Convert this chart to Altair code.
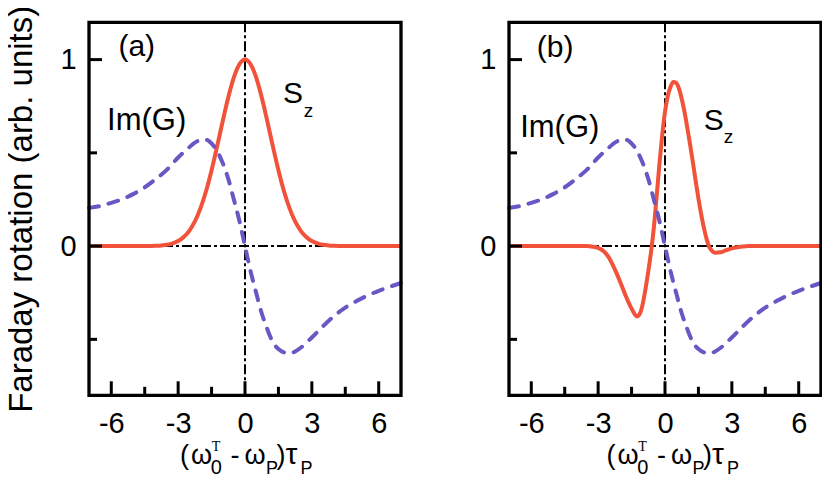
import altair as alt
import pandas as pd

# ---------------- data ----------------
x_sz_a = [-7, -6, -5, -4.5, -4, -3.75, -3.5, -3.25, -3, -2.75, -2.5, -2.25, -2, -1.75, -1.5, -1.25,
          -1, -0.75, -0.5, -0.25, 0, 0.25, 0.5, 0.75, 1, 1.25, 1.5, 1.75, 2, 2.25, 2.5, 2.75, 3,
          3.25, 3.5, 3.75, 4, 4.5, 5, 6, 7]
sz_a = [0, 0, 0, 0.0003, 0.0017, 0.0036, 0.0074, 0.0146, 0.027, 0.049, 0.082, 0.132, 0.202, 0.294,
        0.407, 0.535, 0.670, 0.798, 0.905, 0.975, 1.0, 0.975, 0.905, 0.798, 0.670, 0.535, 0.407,
        0.294, 0.202, 0.132, 0.082, 0.049, 0.027, 0.0146, 0.0074, 0.0036, 0.0017, 0.0003, 0, 0, 0]

x_img = [-7, -6.5, -6, -5.5, -5, -4.5, -4, -3.5, -3, -2.5, -2.25, -2, -1.75, -1.5, -1.25, -1,
         -0.75, -0.5, -0.25, 0, 0.25, 0.5, 0.75, 1, 1.25, 1.5, 1.75, 2, 2.25, 2.5, 3, 3.5, 4,
         4.5, 5, 5.5, 6, 6.5, 7]
im_g = [0.205, 0.215, 0.232, 0.252, 0.28, 0.315, 0.36, 0.41, 0.475, 0.53, 0.555, 0.568, 0.57,
        0.55, 0.51, 0.445, 0.36, 0.25, 0.135, 0, -0.135, -0.25, -0.36, -0.445, -0.515, -0.552,
        -0.57, -0.575, -0.565, -0.545, -0.49, -0.43, -0.375, -0.33, -0.295, -0.265, -0.24,
        -0.218, -0.198]

x_sz_b = [-7, -5, -4, -3.5, -3.25, -3, -2.75, -2.5, -2.25, -2, -1.75, -1.5, -1.25, -1.1, -1,
          -0.875, -0.75, -0.625, -0.5, -0.375, -0.25, -0.125, 0, 0.125, 0.25, 0.375, 0.5, 0.625,
          0.75, 0.875, 1, 1.125, 1.25, 1.375, 1.5, 1.625, 1.75, 1.875, 2, 2.25, 2.5, 2.75, 3,
          3.25, 3.5, 3.75, 4, 5, 7]
sz_b = [0, 0, 0, 0, -0.003, -0.01, -0.028, -0.065, -0.125, -0.195, -0.27, -0.335, -0.377, -0.355,
        -0.31, -0.23, -0.135, -0.03, 0.10, 0.265, 0.44, 0.595, 0.72, 0.805, 0.855, 0.88, 0.875,
        0.845, 0.79, 0.72, 0.635, 0.545, 0.45, 0.35, 0.255, 0.17, 0.095, 0.035, -0.008, -0.035,
        -0.033, -0.022, -0.012, -0.006, -0.002, 0, 0, 0, 0]

x_major = [-6, -3, 0, 3, 6]
x_minor = [-4.5, -1.5, 1.5, 4.5]
y_major = [0, 1]
y_minor = [-0.5, 0.5]

# panel labels: (text, x, y, size)
labels_a = [("(a)", -5.68, 1.021, 30), ("Im(G)", -6.19, 0.622, 31), ("S", 1.70, 0.767, 30), ("z", 2.635, 0.692, 19)]
labels_b = [("(b)", -5.75, 1.016, 30), ("Im(G)", -6.50, 0.583, 31), ("S", 1.74, 0.623, 30), ("z", 2.64, 0.553, 19)]

# ---------------- styling ----------------
W, H = 312, 373
RED = "#f2523a"
BLUE = "#6b57c4"
FONT = "Liberation Sans"

xs = alt.Scale(domain=[-7, 7], nice=False, zero=False)
ys = alt.Scale(domain=[-0.8, 1.2], nice=False, zero=False)
xax = alt.Axis(values=x_major, ticks=False, domain=False, grid=False, title=None,
               labelFontSize=29, labelFont=FONT, labelColor="black", labelPadding=14,
               labelExpr="'' + datum.value", labelOverlap=False, labelFlush=False)
yax = alt.Axis(values=y_major, ticks=False, domain=False, grid=False, title=None,
               labelFontSize=29, labelFont=FONT, labelColor="black", labelPadding=13,
               labelExpr="'' + datum.value", labelOverlap=False, labelFlush=False)


def X():
    return alt.X("x:Q", scale=xs, axis=xax)


def Y():
    return alt.Y("y:Q", scale=ys, axis=yax)


dummy = pd.DataFrame({"a": [0]})


def piece(text, px, py, size, font=FONT):
    return alt.Chart(dummy).mark_text(text=text, fontSize=size, font=font, align="left",
                                      baseline="alphabetic", color="black").encode(
        x=alt.value(px), y=alt.value(py))


def panel(sz_x, sz_y, labels, shift, with_title):
    frame = alt.Chart(dummy).mark_rect(fill=None, stroke="black", strokeWidth=3.3).encode(
        x=alt.value(0), x2=alt.value(W), y=alt.value(0), y2=alt.value(H))
    red = alt.Chart(pd.DataFrame({"x": sz_x, "y": sz_y})).mark_line(
        color=RED, strokeWidth=4, interpolate="monotone").encode(x=X(), y=Y())
    blue = alt.Chart(pd.DataFrame({"x": x_img, "y": im_g})).mark_line(
        color=BLUE, strokeWidth=4, strokeDash=[10, 10], strokeCap="round",
        interpolate="monotone").encode(x=X(), y=Y())
    vrule = alt.Chart(pd.DataFrame({"x": [0]})).mark_rule(
        color="black", strokeWidth=2, strokeDash=[10, 3, 3, 3]).encode(x=X())
    hrule = alt.Chart(pd.DataFrame({"y": [0]})).mark_rule(
        color="black", strokeWidth=2, strokeDash=[10, 3, 3, 3]).encode(y=Y())
    xt_major = alt.Chart(pd.DataFrame({"x": x_major})).mark_rule(color="black", strokeWidth=3).encode(
        x=X(), y=alt.value(H), y2=alt.value(H - 14))
    xt_minor = alt.Chart(pd.DataFrame({"x": x_minor})).mark_rule(color="black", strokeWidth=3).encode(
        x=X(), y=alt.value(H), y2=alt.value(H - 8.5))
    yt_major = alt.Chart(pd.DataFrame({"y": y_major})).mark_rule(color="black", strokeWidth=3).encode(
        y=Y(), x=alt.value(0), x2=alt.value(13))
    yt_minor = alt.Chart(pd.DataFrame({"y": y_minor})).mark_rule(color="black", strokeWidth=3).encode(
        y=Y(), x=alt.value(0), x2=alt.value(8))
    layers = [vrule, hrule, red, blue, xt_major, xt_minor, yt_major, yt_minor, frame]
    for t, lx, ly, size in labels:
        layers.append(
            alt.Chart(pd.DataFrame({"x": [lx], "y": [ly], "t": [t]})).mark_text(
                fontSize=size, font=FONT, align="left", baseline="alphabetic", color="black"
            ).encode(x=X(), y=Y(), text="t:N"))
    # x-axis title: (ω0^T - ωP)τP
    base_y = 442.2
    sub_y = 451.7
    layers += [
        piece("(", 91 + shift, base_y, 27),
        piece("ω", 102 + shift, base_y, 27),
        piece("T", 122.7 + shift, 429.2, 14, font="Liberation Serif"),
        piece("0", 121.7 + shift, sub_y, 20),
        piece("-", 141.5 + shift, base_y, 27),
        piece("ω", 155.5 + shift, base_y, 27),
        piece("P", 177 + shift, sub_y, 18),
        piece(")", 187.5 + shift, base_y, 27),
        piece("τ", 196.5 + shift, base_y, 30),
        piece("P", 211.5 + shift, sub_y, 18),
    ]
    if with_title:
        layers.append(
            alt.Chart(dummy).mark_text(text="Faraday rotation (arb. units)", angle=270, fontSize=33,
                                       font=FONT, align="center", baseline="alphabetic",
                                       color="black").encode(x=alt.value(-57), y=alt.value(H / 2 + 0.5)))
    return alt.layer(*layers).properties(width=W, height=H)


pa = panel(x_sz_a, sz_a, labels_a, 0, True)
pb = panel(x_sz_b, sz_b, labels_b, 6.6, False)

chart = alt.hconcat(pa, pb, spacing=108, bounds="flush").properties(
    autosize=alt.AutoSizeParams(type="none"),
    padding={"left": 81, "top": 14.3, "right": 733, "bottom": 81.5},
).configure_view(strokeWidth=0, fill=None)

chart.save("out.html", embed_options={"renderer": "svg", "actions": False})
